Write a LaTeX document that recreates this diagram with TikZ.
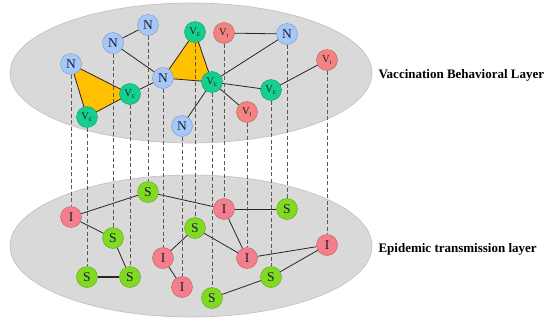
\documentclass[tikz,border=0pt]{standalone}
\usepackage{fontspec}
\setmainfont{Liberation Serif}
\usetikzlibrary{arrows.meta,positioning,calc}
\definecolor{layergray}{HTML}{D9D9D9}
\definecolor{layeredge}{HTML}{BFBFBF}
\definecolor{patchor}{HTML}{FFC000}
\definecolor{nblue}{RGB}{165,200,248}
\definecolor{vegreen}{RGB}{20,208,140}
\definecolor{vired}{RGB}{244,130,126}
\definecolor{sgreen}{RGB}{128,218,34}
\definecolor{ipink}{RGB}{244,126,140}
\definecolor{dashC}{RGB}{90,90,80}
\definecolor{inkC}{RGB}{25,30,55}
\newcommand{\ve}{V\textsubscript{\fontsize{5.5}{5.5}\selectfont E}}
\newcommand{\vi}{V\textsubscript{\fontsize{5.5}{5.5}\selectfont I}}
\tikzset{
  agent/.style={circle, minimum size=21pt, inner sep=0pt, fill=#1, draw=#1!75!black,
                line width=0.4pt, text=inkC, font=\fontsize{13.5}{13.5}\selectfont},
  vnode/.style={agent=#1, font=\fontsize{10.5}{11}\selectfont},
  layer/.style={fill=layergray, draw=layeredge, line width=0.6pt},
  link/.style={line width=0.8pt, draw=black!85},
  proj/.style={dash pattern=on 4pt off 2.5pt, line width=0.7pt, draw=dashC},
  lbl/.style={font=\fontsize{13}{13}\selectfont\bfseries, anchor=west},
}
\begin{document}
\begin{tikzpicture}[x=1pt, y=-1pt]
        \useasboundingbox (0,0) rectangle (550,322);
        % layers
        \draw[layer] (191,73) ellipse [x radius=181pt, y radius=70pt];
        \draw[layer] (191,246) ellipse [x radius=181pt, y radius=71pt];
        \node[lbl] (vl) at (375,75) {Vaccination Behavioral Layer};
        \node[lbl] (el) at (375,249) {Epidemic transmission layer};
        % vaccination behavioural layer
        \coordinate (pN1) at (148,25);  \coordinate (pN2) at (113,43);
        \coordinate (pN3) at (71,64);   \coordinate (pE1) at (87,117);
        \coordinate (pE2) at (130,94);  \coordinate (pN4) at (163,78);
        \coordinate (pE3) at (195,32);  \coordinate (pE4) at (212,82);
        \coordinate (pI1) at (224,33);  \coordinate (pN5) at (287,34);
        \coordinate (pI2) at (327,60);  \coordinate (pE5) at (271,90);
        \coordinate (pI3) at (247,112); \coordinate (pN6) at (182,126);
        \fill[patchor] (pN3) -- (pE2) -- (pE1) -- cycle;
        \fill[patchor] (pN4) -- (pE3) -- (pE4) -- cycle;
        \draw[link] (pN1) -- (pN2); \draw[link] (pN2) -- (pN4);
        \draw[link] (pN3) -- (pE2) -- (pE1) -- cycle;
        \draw[link] (pE2) -- (pN4);
        \draw[link] (pN4) -- (pE3) -- (pE4) -- cycle;
        \draw[link] (pI1) -- (pN5); \draw[link] (pN5) -- (pE4);
        \draw[link] (pE4) -- (pE5); \draw[link] (pE5) -- (pI2);
        \draw[link] (pE4) -- (pI3); \draw[link] (pE4) -- (pN6);
        \node[agent=nblue] (N1) at (pN1) {N};
        \node[agent=nblue] (N2) at (pN2) {N};
        \node[agent=nblue] (N3) at (pN3) {N};
        \node[agent=nblue] (N4) at (pN4) {N};
        \node[agent=nblue] (N5) at (pN5) {N};
        \node[agent=nblue] (N6) at (pN6) {N};
        \node[vnode=vegreen] (E1) at (pE1) {\ve};
        \node[vnode=vegreen] (E2) at (pE2) {\ve};
        \node[vnode=vegreen] (E3) at (pE3) {\ve};
        \node[vnode=vegreen] (E4) at (pE4) {\ve};
        \node[vnode=vegreen] (E5) at (pE5) {\ve};
        \node[vnode=vired] (VI1) at (pI1) {\vi};
        \node[vnode=vired] (VI2) at (pI2) {\vi};
        \node[vnode=vired] (VI3) at (pI3) {\vi};
        % epidemic transmission layer
        \node[agent=sgreen] (S1) at (148,192) {S};
        \node[agent=ipink] (I1) at (71,217) {I};
        \node[agent=sgreen] (S2) at (113,238) {S};
        \node[agent=sgreen] (S3) at (87,277) {S};
        \node[agent=sgreen] (S4) at (130,277) {S};
        \node[agent=ipink] (I2) at (163,258) {I};
        \node[agent=sgreen] (S5) at (195,228) {S};
        \node[agent=ipink] (I3) at (182,287) {I};
        \node[agent=sgreen] (S6) at (212,298) {S};
        \node[agent=ipink] (I4) at (224,209) {I};
        \node[agent=sgreen] (S7) at (287,209) {S};
        \node[agent=ipink] (I5) at (247,258) {I};
        \node[agent=ipink] (I6) at (327,245) {I};
        \node[agent=sgreen] (S8) at (271,277) {S};
        \draw[link] (I1) -- (S1); \draw[link] (S1) -- (I4);
        \draw[link] (I4) -- (S7); \draw[link] (I1) -- (S2);
        \draw[link] (S2) -- (S4); \draw[link, line width=1.2pt] (S3) -- (S4);
        \draw[link] (I2) -- (S5); \draw[link] (I2) -- (I3);
        \draw[link] (S5) -- (I5); \draw[link] (I4) -- (I5);
        \draw[link] (I5) -- (I6); \draw[link] (I6) -- (S8);
        \draw[link] (S8) -- (S6);
        % projections between layers
        \foreach \a/\b in {N3/I1, E1/S3, N2/S2, E2/S4, N1/S1, N4/I2, N6/I3,
                           E3/S5, E4/S6, VI1/I4, VI3/I5, E5/S8, N5/S7, VI2/I6}
          \draw[proj] (\a) -- (\b);
      \end{tikzpicture}
\end{document}
